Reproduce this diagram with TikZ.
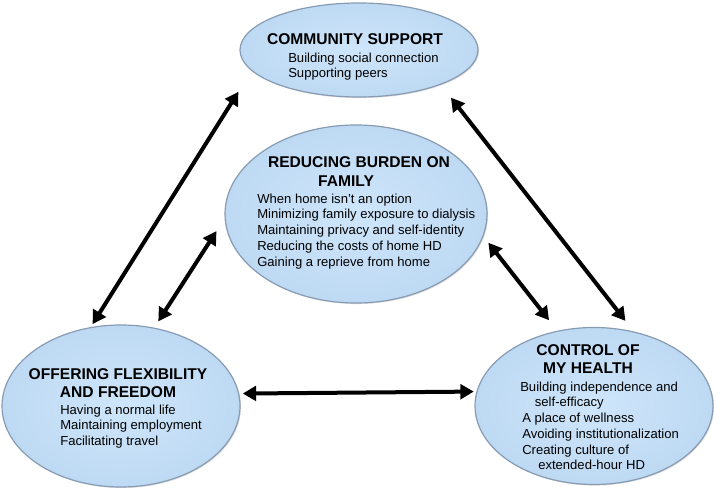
\documentclass[tikz,border=0pt]{standalone}
\usepackage{fontspec}
\setmainfont{Liberation Sans}
\usepackage{tikz}
\usetikzlibrary{positioning,arrows.meta,shapes.geometric,shadows}
\definecolor{bubble}{RGB}{206,230,251}
\definecolor{bubbleout}{RGB}{190,217,243}
\definecolor{bubbleedge}{RGB}{135,155,178}

\begin{document}
\begin{tikzpicture}[
  x=0.75pt, y=-0.75pt,
  every node/.style={inner sep=0pt, font=\fontsize{9.8}{11.8}\selectfont},
  theme/.style={ellipse, draw=bubbleedge, line width=0.9pt, inner color=bubble, outer color=bubbleout,
    drop shadow={opacity=0.25, shadow xshift=0.8pt, shadow yshift=-0.8pt}},
  head/.style={anchor=north, align=center, font=\fontsize{11.7}{13.8}\selectfont\bfseries},
  items/.style={anchor=north west, align=left},
  link/.style={line width=3pt, {Triangle[length=10pt,width=11pt]}-{Triangle[length=10pt,width=11pt]}}
]
\useasboundingbox (0,0) rectangle (714,488);
% Four themes
\node[theme, minimum width=178.5pt, minimum height=70.5pt] (comm) at (359,50) {};
\node[theme, minimum width=196.5pt, minimum height=133.5pt] (fam) at (356,214) {};
\node[theme, minimum width=178.5pt, minimum height=121.5pt] (flex) at (121,406) {};
\node[theme, minimum width=178.5pt, minimum height=117.75pt] (health) at (594,406) {};
% Headings
\node[head] (comm-h) at (355,33) {COMMUNITY SUPPORT};
\node[head] (fam-h) at (359,156.5) {REDUCING BURDEN ON\\FAMILY\hspace*{19.5pt}};
\node[head] (flex-h) at (118,368) {OFFERING FLEXIBILITY\\AND FREEDOM};
\node[head] (health-h) at (588,344) {CONTROL OF\\MY HEALTH};
% Subthemes
\node[items, font=\fontsize{9.8}{11.2}\selectfont] (comm-i) at (288,52.5) {Building social connection\\Supporting peers};
\node[items] (fam-i) at (257,193.5) {When home isn’t an option\\Minimizing family exposure to dialysis\\Maintaining privacy and self-identity\\Reducing the costs of home HD\\Gaining a reprieve from home};
\node[items] (flex-i) at (60,404.5) {Having a normal life\\Maintaining employment\\Facilitating travel};
\node[items] (health-i) at (520,381.5) {Building independence and\\\hspace*{11pt}self-efficacy\\\hspace*{1.5pt}A place of wellness\\\hspace*{1.5pt}Avoiding institutionalization\\\hspace*{1.5pt}Creating culture of\\\hspace*{13.5pt}extended-hour HD};
% Links between themes
\draw[link, shorten <=2.6pt, shorten >=18.5pt] (flex.111.6) -- (comm.191.2);
\draw[link, shorten <=5.6pt, shorten >=11.2pt] (flex.67.1) -- (fam.182.8);
\draw[link, shorten <=2.7pt, shorten >=2pt] (flex.6.3) -- (health.173.7);
\draw[link, shorten <=10pt, shorten >=12.3pt] (health.62.9) -- (comm.337.5);
\draw[link, shorten <=10pt, shorten >=6pt] (health.116.3) -- (fam.350.3);
\end{tikzpicture}
\end{document}
